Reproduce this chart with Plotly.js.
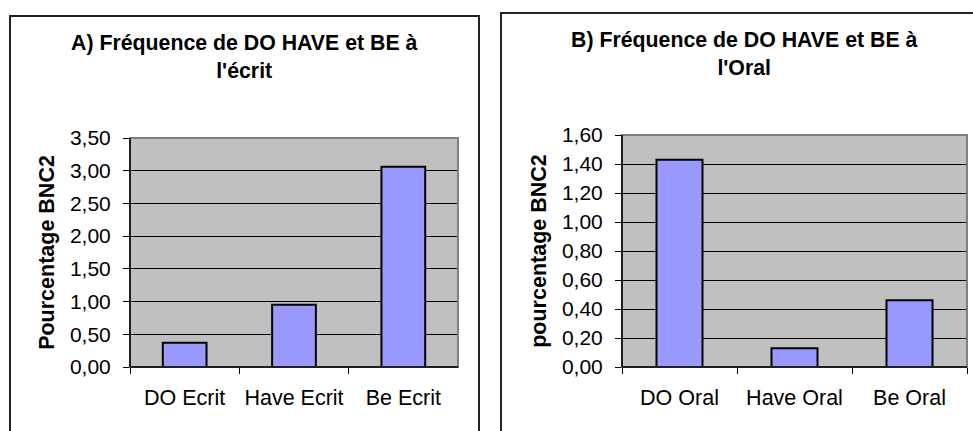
<!DOCTYPE html>
<html><head><meta charset="utf-8">
<script src="https://cdn.plot.ly/plotly-3.0.1.min.js"></script>
<style>html,body{margin:0;padding:0;background:#fff}#chart{width:973px;height:431px}</style>
</head><body><div id="chart"></div>
<script>
const catsEcrit = ["DO Ecrit", "Have Ecrit", "Be Ecrit"];
const valsEcrit = [0.37, 0.95, 3.06];
const catsOral = ["DO Oral", "Have Oral", "Be Oral"];
const valsOral = [1.43, 0.13, 0.46];
const titleA = "A) Fréquence de DO HAVE et BE à<br>l'écrit";
const titleB = "B) Fréquence de DO HAVE et BE à<br>l'Oral";
const yTitleA = "Pourcentage BNC2";
const yTitleB = "pourcentage BNC2";

const W = 973, H = 431;
const px = v => v / W, py = v => 1 - v / H;
const FONT = "Liberation Sans, Arial, sans-serif";

const barStyle = {type: "bar", marker: {color: "#9999ff", line: {color: "#000", width: 2}}, hoverinfo: "x+y"};
const data = [
  Object.assign({x: catsEcrit, y: valsEcrit, xaxis: "x", yaxis: "y"}, barStyle),
  Object.assign({x: catsOral, y: valsOral, xaxis: "x2", yaxis: "y2"}, barStyle)
];

function xa(domain, anchor) {
  return {domain: domain, anchor: anchor, showline: false, showgrid: false, zeroline: false,
    ticks: "outside", ticklen: 6, tickcolor: "#000", tickwidth: 1, tickson: "boundaries",
    ticklabelstandoff: 15, tickfont: {family: FONT, size: 21.5, color: "#000"}, fixedrange: true};
}
function ya(domain, anchor, range, dtick, title) {
  return {domain: domain, anchor: anchor, range: range, dtick: dtick, tickformat: ".2f",
    showline: false, zeroline: false, showgrid: true, gridcolor: "#000", gridwidth: 1,
    ticks: "outside", ticklen: 6, tickcolor: "#000", tickwidth: 1, ticklabelstandoff: 8,
    tickfont: {family: FONT, size: 21, color: "#000"},
    title: {text: title, font: {family: FONT, size: 21.5, color: "#000", weight: "bold"}, standoff: 9},
    fixedrange: true};
}

function frame(xr, yr) {
  return [
    {type: "rect", xref: xr + " domain", yref: yr + " domain", x0: 0, x1: 1, y0: 0, y1: 1,
     line: {color: "#808080", width: 2}, layer: "above"},
    {type: "line", xref: xr + " domain", yref: yr + " domain", x0: 0, x1: 0, y0: 0, y1: 1,
     line: {color: "#000", width: 1.5}, layer: "above"},
    {type: "line", xref: xr + " domain", yref: yr + " domain", x0: 0, x1: 1, y0: 0, y1: 0,
     line: {color: "#000", width: 1.5}, layer: "above"}
  ];
}

const layout = {
  width: W, height: H, margin: {l: 0, r: 0, t: 0, b: 0},
  paper_bgcolor: "#fff", plot_bgcolor: "#c0c0c0",
  showlegend: false, bargap: 0.6, separators: ",.",
  font: {family: FONT, color: "#000"},
  xaxis: xa([px(130), px(458)], "y"),
  yaxis: ya([py(367), py(138)], "x", [0, 3.5], 0.5, yTitleA),
  xaxis2: xa([px(622), px(967)], "y2"),
  yaxis2: ya([py(367), py(135)], "x2", [0, 1.6], 0.2, yTitleB),
  shapes: [
    {type: "rect", xref: "paper", yref: "paper", x0: px(10), x1: px(479), y0: py(16), y1: py(445),
     line: {color: "#222", width: 2}},
    {type: "rect", xref: "paper", yref: "paper", x0: px(501), x1: px(985), y0: py(13), y1: py(445),
     line: {color: "#222", width: 2}}
  ].concat(frame("x", "y"), frame("x2", "y2")),
  annotations: [
    {text: titleA, xref: "paper", yref: "paper", x: px(244), y: py(57), xanchor: "center", yanchor: "middle",
     showarrow: false, font: {family: FONT, size: 21.3, color: "#000", weight: "bold"}},
    {text: titleB, xref: "paper", yref: "paper", x: px(744), y: py(54), xanchor: "center", yanchor: "middle",
     showarrow: false, font: {family: FONT, size: 21.3, color: "#000", weight: "bold"}}
  ]
};

Plotly.newPlot("chart", data, layout, {displayModeBar: false, staticPlot: true});
</script>
</body></html>
